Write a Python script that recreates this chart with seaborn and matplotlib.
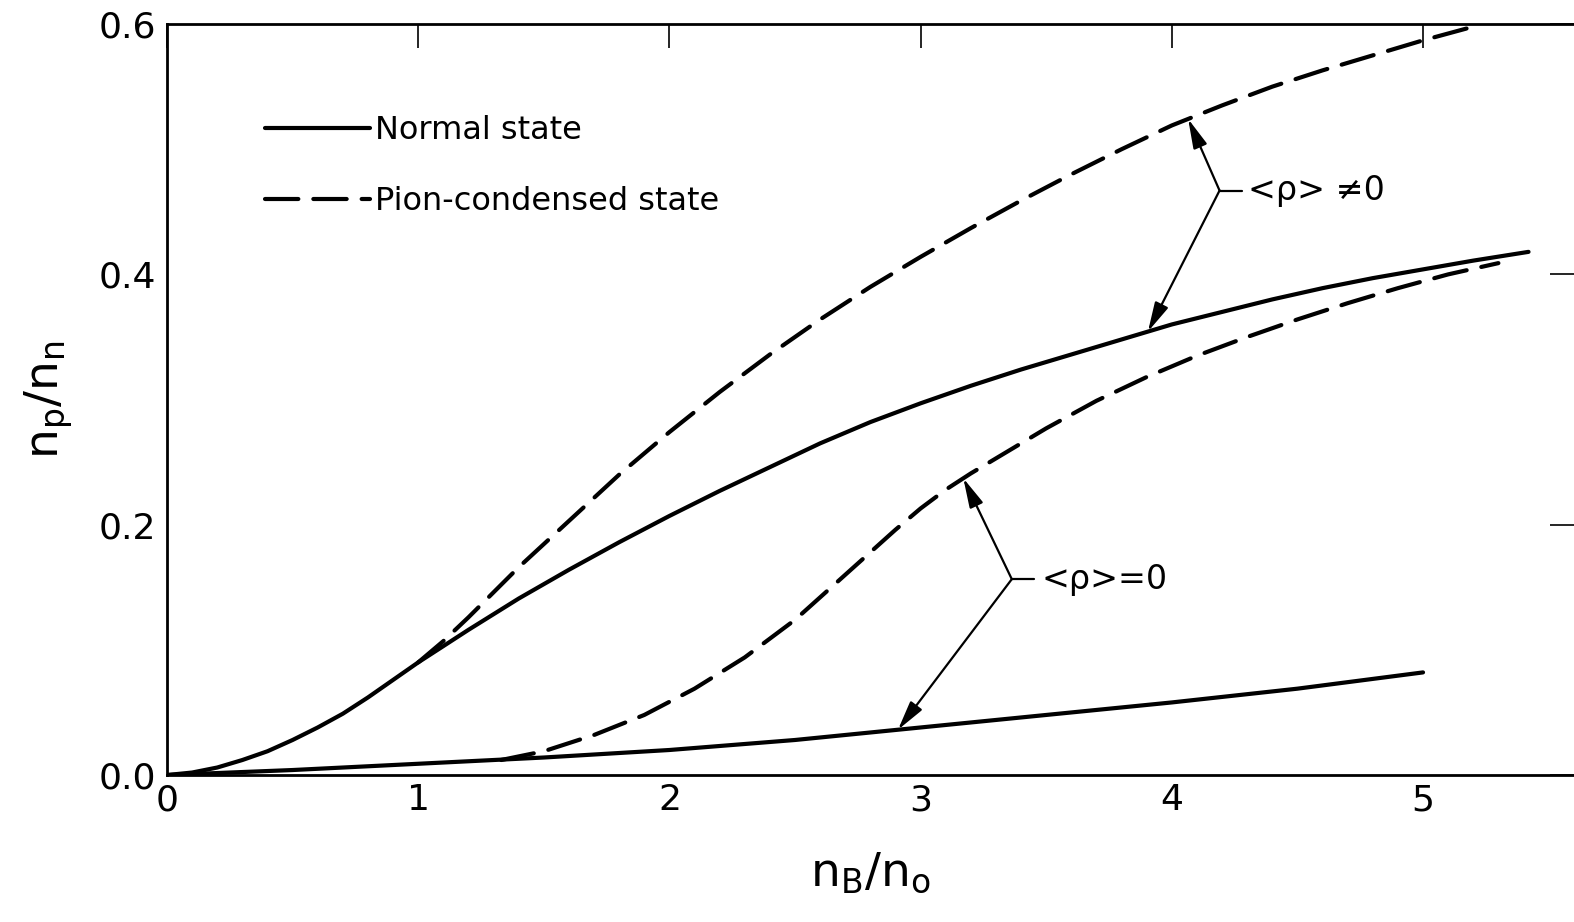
import numpy as np
import matplotlib.pyplot as plt
import seaborn as sns

# -----------------------------
# Data
# -----------------------------

# normal state, <rho> != 0 (upper solid)
normal_hi_x = [0.0, 0.1, 0.2, 0.3, 0.4, 0.5, 0.6, 0.7, 0.8, 0.9, 1.0, 1.2, 1.4,
               1.6, 1.8, 2.0, 2.2, 2.4, 2.6, 2.8, 3.0, 3.2, 3.4, 3.6, 3.8, 4.0,
               4.2, 4.4, 4.6, 4.8, 5.0, 5.2, 5.42]
normal_hi_y = [0.0, 0.002, 0.006, 0.012, 0.019, 0.028, 0.038, 0.049, 0.062, 0.076,
               0.090, 0.116, 0.141, 0.164, 0.186, 0.207, 0.227, 0.246, 0.265,
               0.282, 0.297, 0.311, 0.324, 0.336, 0.348, 0.360, 0.370, 0.380,
               0.389, 0.397, 0.404, 0.411, 0.418]

# pion-condensed state, <rho> != 0 (upper dashed)
pion_hi_x = [1.0, 1.1, 1.2, 1.3, 1.4, 1.6, 1.8, 2.0, 2.2, 2.4, 2.6, 2.8, 3.0,
             3.2, 3.4, 3.6, 3.8, 4.0, 4.2, 4.4, 4.6, 4.8, 5.0, 5.22]
pion_hi_y = [0.090, 0.107, 0.126, 0.146, 0.166, 0.203, 0.240, 0.274, 0.306, 0.336,
             0.364, 0.390, 0.414, 0.437, 0.459, 0.480, 0.500, 0.519, 0.535, 0.550,
             0.563, 0.575, 0.587, 0.599]

# normal state, <rho> = 0 (lower solid)
normal_lo_x = [0.0, 0.5, 1.0, 1.5, 2.0, 2.5, 3.0, 3.5, 4.0, 4.5, 5.0]
normal_lo_y = [0.0, 0.004, 0.009, 0.014, 0.020, 0.028, 0.038, 0.048, 0.058, 0.069, 0.082]

# pion-condensed state, <rho> = 0 (lower dashed)
pion_lo_x = [1.33, 1.5, 1.7, 1.9, 2.1, 2.3, 2.5, 2.6, 2.7, 2.8, 2.9, 3.0, 3.1,
             3.2, 3.3, 3.5, 3.7, 3.9, 4.1, 4.3, 4.5, 4.7, 4.9, 5.1, 5.3]
pion_lo_y = [0.012, 0.019, 0.032, 0.048, 0.069, 0.094, 0.124, 0.142, 0.160, 0.178,
             0.196, 0.213, 0.228, 0.241, 0.253, 0.277, 0.299, 0.318, 0.335, 0.350,
             0.364, 0.377, 0.389, 0.400, 0.409]

x_ticks = [0, 1, 2, 3, 4, 5]
y_ticks = [0.0, 0.2, 0.4, 0.6]

legend_labels = ["Normal state", "Pion-condensed state"]

# -----------------------------
# Style
# -----------------------------

sns.set_theme(style="white")
plt.rcParams["font.family"] = ["DejaVu Sans"]
plt.rcParams["mathtext.fontset"] = "dejavusans"
plt.rcParams["text.color"] = "black"

LW = 3.0
DASH = (0, (8, 3.6))

fig = plt.figure(figsize=(15.74, 9.22), dpi=100)
ax = fig.add_axes([0.1061, 0.1594, 0.8939, 0.8145])

sns.lineplot(x=normal_hi_x, y=normal_hi_y, ax=ax, color="black", lw=LW,
             solid_capstyle="round", solid_joinstyle="round")
sns.lineplot(x=pion_hi_x, y=pion_hi_y, ax=ax, color="black", lw=LW,
             linestyle=DASH, dash_capstyle="round")
sns.lineplot(x=normal_lo_x, y=normal_lo_y, ax=ax, color="black", lw=LW,
             solid_capstyle="round", solid_joinstyle="round")
sns.lineplot(x=pion_lo_x, y=pion_lo_y, ax=ax, color="black", lw=LW,
             linestyle=DASH, dash_capstyle="round")

lines = ax.get_lines()

ax.set_xlim(0, 5.601)
ax.set_ylim(0, 0.6)
ax.set_xticks(x_ticks)
ax.set_xticklabels([str(t) for t in x_ticks])
ax.set_yticks(y_ticks)
ax.set_yticklabels([f"{t:.1f}" for t in y_ticks])

ax.tick_params(direction="in", top=True, right=True, length=17, width=1.2,
               color="black", labelsize=26, labelcolor="black")
ax.tick_params(axis="x", pad=6)
ax.tick_params(axis="y", pad=8)

for side in ["left", "bottom", "top"]:
    ax.spines[side].set_linewidth(2.0)
    ax.spines[side].set_color("black")
ax.spines["right"].set_visible(False)

ax.set_xlabel(r"$\mathregular{n_B/n_o}$", fontsize=34, labelpad=24, color="black")
ax.set_ylabel(r"$\mathregular{n_p/n_n}$", fontsize=34, labelpad=17, color="black")

# Legend
leg = ax.legend([lines[0], lines[1]], legend_labels, loc="upper left",
                bbox_to_anchor=(0.0697, 0.879), frameon=False, fontsize=23,
                handlelength=3.3, handletextpad=0.15, labelspacing=1.25,
                borderpad=0, borderaxespad=0)
for t in leg.get_texts():
    t.set_color("black")

# -----------------------------
# Bracket annotations
# -----------------------------

def bracket(vx, vy, up_x, up_cx, up_cy, dn_x, dn_cx, dn_cy, text, tx):
    up_y = np.interp(up_x, up_cx, up_cy)
    dn_y = np.interp(dn_x, dn_cx, dn_cy)
    arrow = dict(arrowstyle="-|>,head_length=0.9,head_width=0.22",
                 color="black", lw=1.6, shrinkA=0, shrinkB=0,
                 mutation_scale=20)
    ax.annotate("", xy=(up_x, up_y), xytext=(vx, vy), arrowprops=arrow)
    ax.annotate("", xy=(dn_x, dn_y), xytext=(vx, vy), arrowprops=arrow)
    ax.plot([vx, vx + 0.088], [vy, vy], color="black", lw=1.6)
    ax.text(tx, vy, text, fontsize=24, ha="left", va="center", color="black")


bracket(4.19, 0.467, 4.065, pion_hi_x, pion_hi_y, 3.905, normal_hi_x, normal_hi_y,
        "<ρ> ≠0", 4.303)
bracket(3.363, 0.1565, 3.17, pion_lo_x, pion_lo_y, 2.91, normal_lo_x, normal_lo_y,
        "<ρ>=0", 3.483)

fig.savefig("out.png", dpi=100, facecolor="white")
plt.close(fig)
